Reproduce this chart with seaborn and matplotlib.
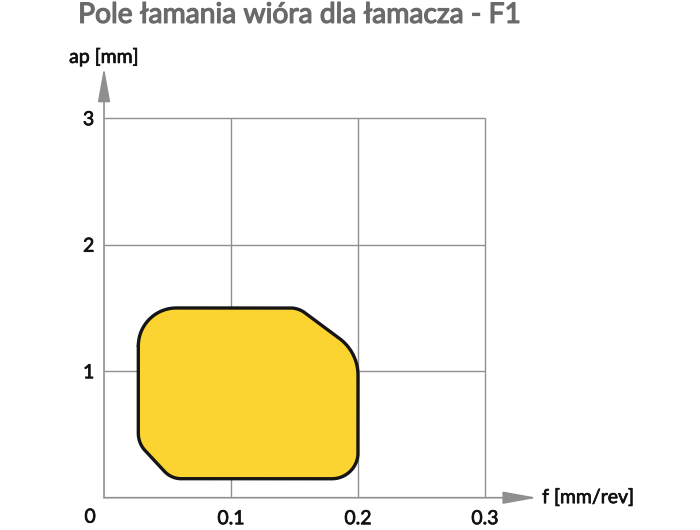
import numpy as np
import matplotlib
matplotlib.use("Agg")
import matplotlib.pyplot as plt
import matplotlib.patheffects as pe
import seaborn as sns

# Chart data ------------------------------------------------------------------------
title = "Pole łamania wióra dla łamacza - F1"
x_label = "f [mm/rev]"
y_label = "ap [mm]"
f_ticks = [0.1, 0.2, 0.3]
ap_ticks = [1, 2, 3]

# Corner points of the chip breaking zone (clockwise from top-left)
zone_f = [0.027, 0.153, 0.200, 0.200, 0.053, 0.027]
zone_ap = [1.50, 1.50, 1.15, 0.15, 0.15, 0.43]

# Styling
zone_color = "#FCD432"
grid_color = "#8f8f8f"
text_color = "#111111"
title_color = "#6a6a6a"
corner_px = [38, 8, 23, 26, 10, 10]   # rounding of each corner, pixels
px_per_ap = 126.5


def rounded_outline(us, vs, ts, n=24):
    # rounds each polygon corner with a circular arc (cubic bezier)
    P = np.column_stack([us, vs])
    N = len(P)
    pts = []
    for i in range(N):
        p, a, b = P[i], P[i - 1], P[(i + 1) % N]
        d1 = (a - p) / np.linalg.norm(a - p)
        d2 = (b - p) / np.linalg.norm(b - p)
        th = np.arccos(np.clip(np.dot(d1, d2), -1, 1))
        t = ts[i]
        R = t * np.tan(th / 2)
        h = 4 / 3 * np.tan((np.pi - th) / 4) * R
        t1, t2 = p + t * d1, p + t * d2
        c1, c2 = t1 - d1 * h, t2 - d2 * h
        s = np.linspace(0, 1, n)[:, None]
        bez = (1 - s) ** 3 * t1 + 3 * (1 - s) ** 2 * s * c1 + 3 * (1 - s) * s ** 2 * c2 + s ** 3 * t2
        pts.append(bez)
    pts = np.vstack(pts)
    pts = np.vstack([pts, pts[:1]])
    return pts[:, 0], pts[:, 1]


sns.set_theme(style="white")
plt.rcParams['font.family'] = ['Lato', 'DejaVu Sans']

fig = plt.figure(figsize=(7, 5.3), dpi=100)
ax = fig.add_axes([0.1486, 0.0609, 0.635, 0.8354])
ax.set_xlim(0, 0.35)
ax.set_ylim(0, 3.5)
for s in ax.spines.values():
    s.set_visible(False)

# Grid lines
ax.vlines(f_ticks, 0, max(ap_ticks), color=grid_color, lw=1.0, zorder=1)
ax.hlines(ap_ticks, 0, max(f_ticks), color=grid_color, lw=1.0, zorder=1)

# Axes with arrow heads
arrow_kw = dict(arrowstyle="-|>,head_length=2.1,head_width=0.38", color=grid_color,
                lw=1.2, mutation_scale=10, shrinkA=0, shrinkB=0)
ax.annotate("", xy=(0.341, 0), xytext=(0, 0), arrowprops=arrow_kw, annotation_clip=False, zorder=2)
ax.annotate("", xy=(0, 3.40), xytext=(0, 0), arrowprops=arrow_kw, annotation_clip=False, zorder=2)

# Zone: work in a scale where 0.1 mm/rev and 1 mm take the same pixels
u = np.array(zone_f) * 10
v = np.array(zone_ap)
ou, ov = rounded_outline(u, v, np.array(corner_px) / px_per_ap)
ax.fill(ou / 10, ov, color=zone_color, zorder=3, lw=0)
sns.lineplot(x=ou / 10, y=ov, sort=False, estimator=None, color="#151515", lw=2.4, ax=ax, zorder=4)

# Slightly heavier text, like the medium weight of the original
thick = [pe.withStroke(linewidth=0.5, foreground=text_color)]

# Ticks
ax.set_xticks(f_ticks)
ax.set_xticklabels([str(t) for t in f_ticks])
ax.set_yticks(ap_ticks)
ax.set_yticklabels([str(t) for t in ap_ticks])
ax.tick_params(axis='both', length=0, labelsize=14, labelcolor=text_color)
ax.tick_params(axis='x', pad=9)
ax.tick_params(axis='y', pad=7)
for lab in ax.get_xticklabels() + ax.get_yticklabels():
    lab.set_path_effects(thick)
ax.annotate("0", xy=(0, 0), xytext=(-10, -14), textcoords="offset points",
            ha="center", va="center", fontsize=14, color=text_color,
            annotation_clip=False, path_effects=thick)

# Axis titles
ax.text(0.345, 0, x_label, ha="left", va="center", fontsize=14, color=text_color,
        clip_on=False, path_effects=thick)
ax.text(0, 3.48, y_label, ha="center", va="center", fontsize=14, color=text_color,
        clip_on=False, path_effects=thick)

fig.text(0.4286, 0.972, title, ha="center", va="center", fontsize=20.3, color=title_color,
         path_effects=[pe.withStroke(linewidth=0.9, foreground=title_color)])

plt.savefig("out.png", dpi=100)
